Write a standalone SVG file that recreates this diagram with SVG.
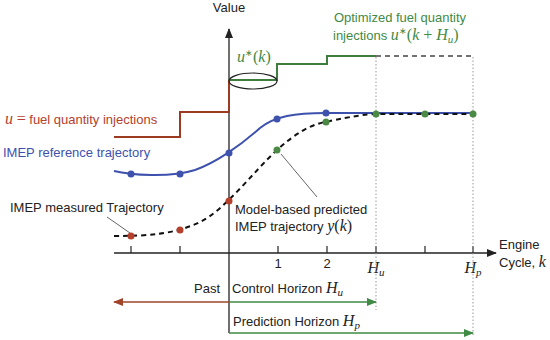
<svg xmlns="http://www.w3.org/2000/svg" width="550" height="340" viewBox="0 0 550 340">
<defs>
<style>
text{font-family:"Liberation Sans",Arial,sans-serif;font-size:13px;fill:#222}
.m{font-family:"Liberation Serif","Times New Roman",serif;font-style:italic;font-size:16px}
.r{font-family:"Liberation Serif","Times New Roman",serif;font-style:normal;font-size:16px}
.sub{font-family:"Liberation Serif","Times New Roman",serif;font-style:italic;font-size:11px}
.sup{font-family:"Liberation Serif","Times New Roman",serif;font-style:normal;font-size:9px}
.red{fill:#b5412c}
.grn{fill:#3f8a45}
.blu{fill:#3e52ad}
.axis{stroke:#222;stroke-width:1.3;fill:none}
.tick{stroke:#222;stroke-width:1.2}
.dot{stroke:#999;stroke-width:1;stroke-dasharray:1.5,2;fill:none}
.lead{stroke:#666;stroke-width:1;fill:none}
.bd{fill:#3e52ad}
.rd{fill:#b5412c}
.gd{fill:#4a8a45}
</style>
<marker id="ak" markerWidth="10" markerHeight="8" refX="9" refY="4" orient="auto" markerUnits="userSpaceOnUse"><path d="M0,0 L10,4 L0,8 Z" fill="#222"/></marker>
<marker id="ar" markerWidth="10" markerHeight="8" refX="9" refY="4" orient="auto" markerUnits="userSpaceOnUse"><path d="M0,0 L10,4 L0,8 Z" fill="#a0452a"/></marker>
<marker id="ag" markerWidth="10" markerHeight="8" refX="9" refY="4" orient="auto" markerUnits="userSpaceOnUse"><path d="M0,0 L10,4 L0,8 Z" fill="#3f8a45"/></marker>
</defs>

<g id="axes">
<line class="axis" x1="229" y1="333" x2="229" y2="29" marker-end="url(#ak)"/>
<line class="axis" x1="114" y1="253" x2="496" y2="253" marker-end="url(#ak)"/>
<g id="ticks">
<line class="tick" x1="131" y1="246" x2="131" y2="253"/>
<line class="tick" x1="180" y1="246" x2="180" y2="253"/>
<line class="tick" x1="278" y1="246" x2="278" y2="253"/>
<line class="tick" x1="327" y1="246" x2="327" y2="253"/>
<line class="tick" x1="376" y1="246" x2="376" y2="253"/>
<line class="tick" x1="425" y1="246" x2="425" y2="253"/>
<line class="tick" x1="473" y1="246" x2="473" y2="253"/>
</g>
<text x="229" y="12" text-anchor="middle">Value</text>
<text x="278" y="268" text-anchor="middle" font-size="12">1</text>
<text x="327" y="268" text-anchor="middle" font-size="12">2</text>
<text x="376" y="273" text-anchor="middle" class="m">H<tspan class="sub" dy="3">u</tspan></text>
<text x="473" y="273" text-anchor="middle" class="m">H<tspan class="sub" dy="3">p</tspan></text>
<text x="499" y="249">Engine</text>
<text x="499" y="267">Cycle, <tspan class="m">k</tspan></text>
</g>

<g id="guides">
<line class="dot" x1="376" y1="57" x2="376" y2="310"/>
<line class="dot" x1="473" y1="57" x2="473" y2="336"/>
</g>

<g id="input-past">
<path d="M114,137 L180,137 L180,112 L229,112 L229,80" fill="none" stroke="#9c3b22" stroke-width="2"/>
<text x="5" y="124" class="red"><tspan class="m" style="fill:#b5412c">u</tspan> <tspan class="r" style="fill:#b5412c">=</tspan> fuel quantity injections</text>
</g>

<g id="input-optimized">
<path d="M229,80 L277,80 L277,64 L327,64 L327,56 L376,56" fill="none" stroke="#3f7d3f" stroke-width="2"/>
<path d="M376,56 L473,56" fill="none" stroke="#444" stroke-width="1.6" stroke-dasharray="5,4"/>
<ellipse cx="253" cy="81" rx="24" ry="8" fill="none" stroke="#222" stroke-width="1.2"/>
<text x="237" y="62" class="m" style="fill:#3f8a45">u<tspan class="sup" style="fill:#3f8a45" dy="-6">∗</tspan><tspan class="r" style="fill:#3f8a45" dy="6">(</tspan>k<tspan class="r" style="fill:#3f8a45">)</tspan></text>
<text x="400" y="22" text-anchor="middle" class="grn">Optimized fuel quantity</text>
<text x="333" y="40" class="grn">injections <tspan class="m" style="fill:#3f8a45">u</tspan><tspan class="sup" style="fill:#3f8a45" dy="-6">∗</tspan><tspan class="r" style="fill:#3f8a45" dy="6">(</tspan><tspan class="m" style="fill:#3f8a45">k</tspan><tspan class="r" style="fill:#3f8a45"> + </tspan><tspan class="m" style="fill:#3f8a45">H</tspan><tspan class="sub" style="fill:#3f8a45" dy="3">u</tspan><tspan class="r" style="fill:#3f8a45" dy="-3">)</tspan></text>
</g>

<g id="reference">
<path d="M114,171 C130,175 170,178 195,170 C215,163 240,146 260,128 C275,116 295,113 326,113 L473,113" fill="none" stroke="#3e52ad" stroke-width="2"/>
<circle class="bd" cx="131" cy="174" r="3.5"/>
<circle class="bd" cx="180" cy="174" r="3.5"/>
<circle class="bd" cx="229" cy="153" r="3.5"/>
<circle class="bd" cx="277" cy="119" r="3.5"/>
<circle class="bd" cx="326" cy="113" r="3.5"/>
<text x="3" y="157" class="blu">IMEP reference trajectory</text>
</g>

<g id="predicted">
<path d="M114,236 C150,236 175,234 200,222 C225,210 255,170 277,150 C295,134 310,124 330,121 C350,117 365,114 376,114 L473,114" fill="none" stroke="#111" stroke-width="2" stroke-dasharray="5,4"/>
<circle class="rd" cx="131" cy="236" r="3.5"/>
<circle class="rd" cx="180" cy="230" r="3.5"/>
<circle class="rd" cx="229" cy="201" r="3.5"/>
<circle class="gd" cx="277" cy="150" r="3.5"/>
<circle class="gd" cx="326" cy="122" r="3.5"/>
<circle class="gd" cx="376" cy="114" r="3.5"/>
<circle class="gd" cx="425" cy="114" r="3.5"/>
<circle class="gd" cx="473" cy="114" r="3.5"/>
</g>

<g id="labels">
<line class="lead" x1="107" y1="217" x2="130" y2="233"/>
<text x="10" y="212">IMEP measured Trajectory</text>
<line class="lead" x1="281" y1="154" x2="317" y2="197"/>
<text x="235" y="214">Model-based predicted</text>
<text x="235" y="231">IMEP trajectory <tspan class="m">y</tspan><tspan class="r">(</tspan><tspan class="m">k</tspan><tspan class="r">)</tspan></text>
</g>

<g id="horizons">
<line x1="229" y1="302" x2="114" y2="302" stroke="#a0452a" stroke-width="1.4" marker-end="url(#ar)"/>
<line x1="229" y1="302" x2="376" y2="302" stroke="#3f8a45" stroke-width="1.4" marker-end="url(#ag)"/>
<line x1="229" y1="333" x2="473" y2="333" stroke="#3f8a45" stroke-width="1.4" marker-end="url(#ag)"/>
<text x="220" y="293" text-anchor="end">Past</text>
<text x="232" y="293">Control Horizon <tspan class="m">H</tspan><tspan class="sub" dy="3">u</tspan></text>
<text x="233" y="326">Prediction Horizon <tspan class="m">H</tspan><tspan class="sub" dy="3">p</tspan></text>
</g>
</svg>
